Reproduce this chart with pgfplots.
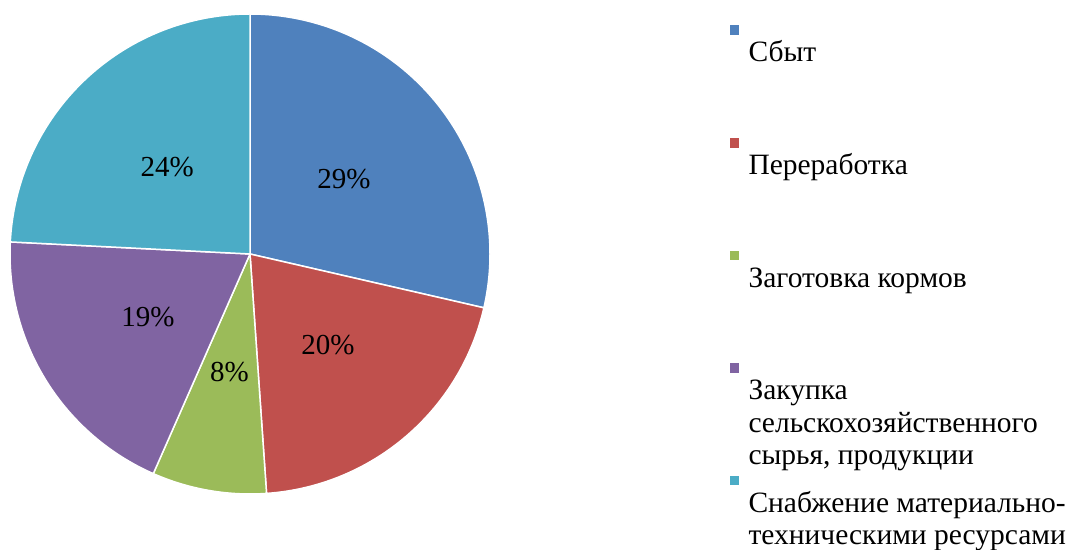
\documentclass[border=0pt]{standalone}
\usepackage{fontspec}
\setmainfont{Liberation Serif}
\usepackage{pgfplots}
\pgfplotsset{compat=1.18}
\definecolor{cBlue}{HTML}{4F81BD}
\definecolor{cRed}{HTML}{C0504D}
\definecolor{cGreen}{HTML}{9BBB59}
\definecolor{cPurple}{HTML}{8064A2}
\definecolor{cCyan}{HTML}{4BACC6}
% #1 cumulative start (%), #2 value (%), #3 colour, #4 label
\newcommand\slice[4]{%
  \addplot[fill=#3, draw=white, line width=1.5bp,
    domain={90-3.6*(#1+#2)}:{90-3.6*(#1)}, samples=120]
    ({250+240*cos(x)},{296+240*sin(x)}) -- (axis cs:250,296) -- cycle;
  \node[font=\fontsize{29bp}{34bp}\selectfont, inner sep=0pt]
    at (axis cs:{250+120*cos(90-3.6*(#1+#2/2))},{296+120*sin(90-3.6*(#1+#2/2))}) {#4};
}
\newcommand\legtext[1]{\parbox[t]{330bp}{\fontsize{29.5bp}{32.5bp}\selectfont\raggedright #1}}
\begin{document}
\begin{tikzpicture}
\begin{axis}[
  scale only axis, width=1068bp, height=550bp,
  xmin=0, xmax=1068, ymin=0, ymax=550,
  hide axis, clip=false,
  legend image code/.code={\fill (0bp,48bp) rectangle (11bp,59bp);},
  legend style={draw=none, fill=none, inner sep=0pt, outer sep=0pt,
    at={(728/1068,526/550)}, anchor=north west,
    column sep=8bp, row sep=0pt,
    cells={anchor=base west},
    nodes={inner sep=0pt, outer sep=0pt, text height=31bp, text depth=74.75bp}},
  legend cell align=left,
]
\slice{0}{28.6}{cBlue}{29\%}
\addlegendentry{\legtext{Сбыт}}
\slice{28.6}{20.3}{cRed}{20\%}
\addlegendentry{\legtext{Переработка}}
\slice{48.9}{7.7}{cGreen}{8\%}
\addlegendentry{\legtext{Заготовка кормов}}
\slice{56.6}{19.2}{cPurple}{19\%}
\addlegendentry{\legtext{Закупка\\сельскохозяйственного\\сырья, продукции}}
\slice{75.8}{24.2}{cCyan}{24\%}
\addlegendentry{\legtext{Снабжение материально-\\техническими ресурсами}}
\end{axis}
\pgfresetboundingbox
\path (current axis.south west) rectangle (current axis.north east);
\end{tikzpicture}
\end{document}
